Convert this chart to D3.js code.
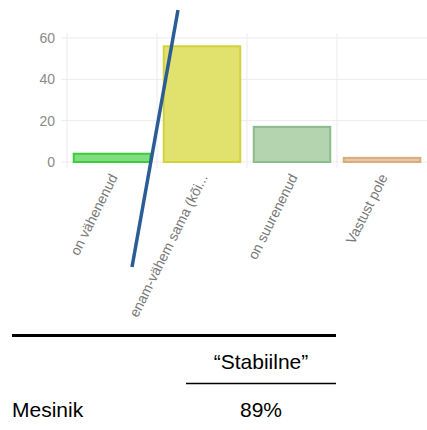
<!DOCTYPE html>
<html>
<head>
<meta charset="utf-8">
<script src="https://cdn.jsdelivr.net/npm/d3@7"></script>
<style>
  html, body { margin: 0; padding: 0; background: #fff; }
  svg { display: block; }
</style>
</head>
<body>
<svg id="chart" width="427" height="430"></svg>
<script>
// Answer categories and counts
const categories = ["on vähenenud", "enam-vähem sama (kõi...", "on suurenenud", "Vastust pole"];
const counts = [4, 56, 17, 2];
const fills = ["#80de80", "#e1e16e", "#b4d4b0", "#e8c8a4"];
const strokes = ["#3ccc3c", "#d2d23c", "#8cbc8c", "#d8ac80"];
const yTicks = [0, 20, 40, 60];

// Summary table below the chart
const tableHeader = "“Stabiilne”";
const tableRowLabel = "Mesinik";
const tableRowValue = "89%";

const svg = d3.select("#chart");
const font = "'Liberation Sans', Arial, Helvetica, sans-serif";

const x = d3.scaleBand().domain(categories).range([67, 427]).padding(0);
const y = d3.scaleLinear().domain([0, 60]).range([162, 38]);
const plotTop = 33;

// Horizontal grid lines with short ticks left of the axis
svg.append("g").selectAll("line").data(yTicks).join("line")
  .attr("x1", 61).attr("x2", 427)
  .attr("y1", d => y(d)).attr("y2", d => y(d))
  .attr("stroke", "#ebebeb").attr("stroke-width", 1);

// Vertical grid lines at category boundaries
const bounds = categories.map(c => x(c));
svg.append("g").selectAll("line").data(bounds).join("line")
  .attr("x1", d => d).attr("x2", d => d)
  .attr("y1", plotTop).attr("y2", y(0) + 6)
  .attr("stroke", "#ebebeb").attr("stroke-width", 1);

// Y tick labels
svg.append("g").selectAll("text").data(yTicks).join("text")
  .attr("x", 55).attr("y", d => y(d))
  .attr("dy", "0.35em")
  .attr("text-anchor", "end")
  .attr("font-family", font).attr("font-size", 14)
  .attr("fill", "#8a8a8a")
  .text(d => d);

// Bars
const inset = x.bandwidth() * 0.075;
svg.append("g").selectAll("rect").data(categories).join("rect")
  .attr("x", d => x(d) + inset)
  .attr("width", x.bandwidth() - 2 * inset)
  .attr("y", (d, i) => y(counts[i]))
  .attr("height", (d, i) => y(0) - y(counts[i]))
  .attr("fill", (d, i) => fills[i])
  .attr("stroke", (d, i) => strokes[i])
  .attr("stroke-width", 2);

// Rotated category labels
svg.append("g").selectAll("text").data(categories).join("text")
  .attr("transform", d => `translate(${x(d) + x.bandwidth() / 2 + 6},${y(0) + 15}) rotate(-63.5)`)
  .attr("text-anchor", "end")
  .attr("font-family", font).attr("font-size", 14)
  .attr("fill", "#777")
  .text(d => d);

// Diagonal blue stroke across the chart
svg.append("line")
  .attr("x1", 178).attr("y1", 10)
  .attr("x2", 132).attr("y2", 267)
  .attr("stroke", "#2a5c96").attr("stroke-width", 3.5);

// Table rules
svg.append("line").attr("x1", 12).attr("x2", 336).attr("y1", 335.5).attr("y2", 335.5)
  .attr("stroke", "#000").attr("stroke-width", 3);
svg.append("line").attr("x1", 186).attr("x2", 336).attr("y1", 383.5).attr("y2", 383.5)
  .attr("stroke", "#000").attr("stroke-width", 1.3);

// Table text
svg.append("text").attr("x", 261).attr("y", 369)
  .attr("text-anchor", "middle").attr("font-family", font).attr("font-size", 21)
  .attr("fill", "#000").text(tableHeader);
svg.append("text").attr("x", 12).attr("y", 417)
  .attr("font-family", font).attr("font-size", 21)
  .attr("fill", "#000").text(tableRowLabel);
svg.append("text").attr("x", 261).attr("y", 417)
  .attr("text-anchor", "middle").attr("font-family", font).attr("font-size", 21)
  .attr("fill", "#000").text(tableRowValue);
</script>
</body>
</html>
